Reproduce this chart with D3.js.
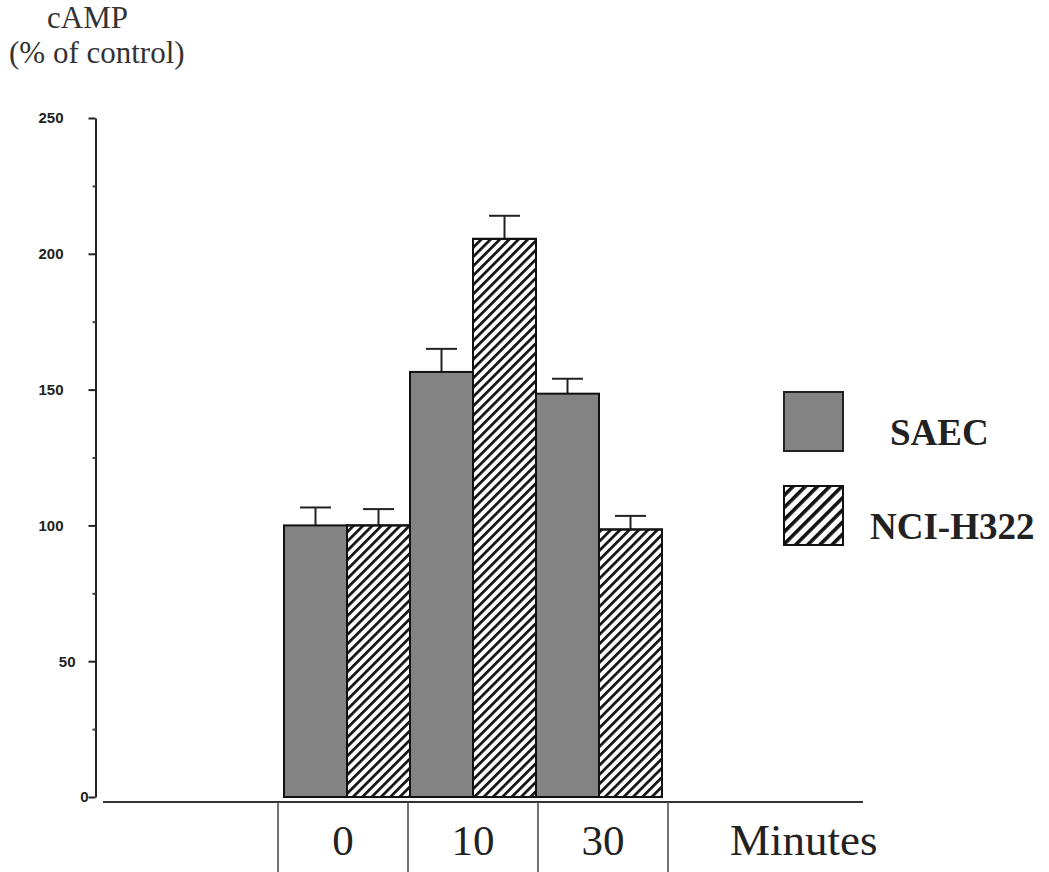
<!DOCTYPE html>
<html lang="en">
  <head>
    <meta charset="UTF-8" />
    <title>cAMP bar chart</title>
    <style>
      body { margin: 0; background: #fff; }
      svg { display: block; }
    </style>
  </head>

  <body>
    <div id="chart"></div>

    <script src="https://cdn.jsdelivr.net/npm/d3@7/dist/d3.min.js"></script>
    <script>

      // data
      var times = ["0", "10", "30"];
      var series = ["SAEC", "NCI-H322"];
      var saec = [100, 156.5, 148.5];
      var saecErr = [6.6, 8.5, 5.5];
      var nci = [100, 205.5, 98.5];
      var nciErr = [6, 8.5, 5];
      var yTicks = [0, 50, 100, 150, 200, 250];
      var yMinor = [25, 75, 125, 175, 225];

      var w = 1049, h = 872;
      var axisX = 95.5, axisY = 802;
      var serif = "'Liberation Serif', 'Times New Roman', serif";
      var sans = "'Liberation Sans', Arial, sans-serif";

      var svg = d3.select("#chart").append("svg")
                  .attr("width", w)
                  .attr("height", h);

      var defs = svg.append("defs");
      // hatch for the bars
      defs.append("pattern")
          .attr("id", "hatch")
          .attr("patternUnits", "userSpaceOnUse")
          .attr("width", 6.6)
          .attr("height", 6.6)
          .attr("patternTransform", "rotate(45)")
        .append("rect")
          .attr("width", 2.7)
          .attr("height", 6.6)
          .attr("fill", "#111");
      // wider hatch for the legend box
      defs.append("pattern")
          .attr("id", "hatchLegend")
          .attr("patternUnits", "userSpaceOnUse")
          .attr("width", 8.6)
          .attr("height", 8.6)
          .attr("patternTransform", "rotate(45)")
        .append("rect")
          .attr("width", 3.6)
          .attr("height", 8.6)
          .attr("fill", "#111");

      var yScale = d3.scaleLinear()
                     .domain([0, 250])
                     .range([797, 118]);

      var xGroup = d3.scaleBand()
                     .domain(times)
                     .range([284, 662]);
      var xSub = d3.scaleBand()
                   .domain(series)
                   .range([0, xGroup.bandwidth()]);
      var xCell = d3.scaleBand()
                    .domain(times)
                    .range([278, 668]);

      var data = [];
      times.forEach(function(t, i) {
        data.push({ time: t, s: "SAEC", v: saec[i], e: saecErr[i] });
        data.push({ time: t, s: "NCI-H322", v: nci[i], e: nciErr[i] });
      });

      // y axis
      var yAxis = d3.axisLeft(yScale)
                    .tickValues(yTicks)
                    .tickSize(7)
                    .tickSizeOuter(0)
                    .tickFormat(d3.format("d"));
      var gy = svg.append("g")
                  .attr("transform", "translate(" + axisX + ",0)")
                  .call(yAxis);
      gy.select(".domain").attr("stroke", "#222").attr("stroke-width", 2);
      gy.selectAll(".tick line").attr("stroke", "#222").attr("stroke-width", 2);
      gy.selectAll(".tick text")
        .attr("font-family", sans)
        .attr("font-size", 15)
        .attr("font-weight", 600)
        .attr("fill", "#222")
        .attr("x", function(d) {
          var n = String(d).length;
          return n === 3 ? -32 : (n === 2 ? -20 : -7);
        });

      var yMinorAxis = d3.axisLeft(yScale)
                         .tickValues(yMinor)
                         .tickSize(3)
                         .tickFormat("");
      var gm = svg.append("g")
                  .attr("transform", "translate(" + axisX + ",0)")
                  .call(yMinorAxis);
      gm.select(".domain").remove();
      gm.selectAll(".tick line").attr("stroke", "#444").attr("stroke-width", 2);

      // x axis line and the time table
      svg.append("line")
         .attr("x1", 103).attr("x2", 863)
         .attr("y1", axisY).attr("y2", axisY)
         .attr("stroke", "#333")
         .attr("stroke-width", 2);

      var cellEdges = times.map(function(t) { return xCell(t); })
                           .concat([xCell(times[times.length - 1]) + xCell.bandwidth()]);
      svg.selectAll(".cellLine")
         .data(cellEdges)
         .enter()
         .append("line")
         .attr("class", "cellLine")
         .attr("x1", function(d) { return d; })
         .attr("x2", function(d) { return d; })
         .attr("y1", axisY)
         .attr("y2", h)
         .attr("stroke", "#444")
         .attr("stroke-width", 1.5);

      svg.selectAll(".cellText")
         .data(times)
         .enter()
         .append("text")
         .attr("class", "cellText")
         .attr("x", function(d) { return xCell(d) + xCell.bandwidth() / 2; })
         .attr("y", 855)
         .attr("text-anchor", "middle")
         .attr("font-family", serif)
         .attr("font-size", 43)
         .attr("fill", "#222")
         .text(function(d) { return d; });

      svg.append("text")
         .attr("x", 730)
         .attr("y", 855)
         .attr("font-family", serif)
         .attr("font-size", 45)
         .attr("fill", "#222")
         .text("Minutes");

      // error bars (upward only)
      var errs = svg.append("g");
      errs.selectAll(".errLine")
          .data(data)
          .enter()
          .append("line")
          .attr("x1", function(d) { return xGroup(d.time) + xSub(d.s) + xSub.bandwidth() / 2; })
          .attr("x2", function(d) { return xGroup(d.time) + xSub(d.s) + xSub.bandwidth() / 2; })
          .attr("y1", function(d) { return yScale(d.v); })
          .attr("y2", function(d) { return yScale(d.v + d.e); })
          .attr("stroke", "#222")
          .attr("stroke-width", 2);
      errs.selectAll(".errCap")
          .data(data)
          .enter()
          .append("line")
          .attr("x1", function(d) { return xGroup(d.time) + xSub(d.s) + xSub.bandwidth() / 2 - 15.5; })
          .attr("x2", function(d) { return xGroup(d.time) + xSub(d.s) + xSub.bandwidth() / 2 + 15.5; })
          .attr("y1", function(d) { return yScale(d.v + d.e); })
          .attr("y2", function(d) { return yScale(d.v + d.e); })
          .attr("stroke", "#222")
          .attr("stroke-width", 2);

      // bars: white base, then gray or hatch on top
      svg.selectAll(".bar")
         .data(data)
         .enter()
         .append("rect")
         .attr("class", "bar")
         .attr("x", function(d) { return xGroup(d.time) + xSub(d.s); })
         .attr("y", function(d) { return yScale(d.v); })
         .attr("width", xSub.bandwidth())
         .attr("height", function(d) { return yScale(0) - yScale(d.v); })
         .attr("fill", function(d) { return d.s === "SAEC" ? "#838383" : "#fff"; })
         .attr("stroke", "#111")
         .attr("stroke-width", 2);
      svg.selectAll(".barHatch")
         .data(data.filter(function(d) { return d.s === "NCI-H322"; }))
         .enter()
         .append("rect")
         .attr("class", "barHatch")
         .attr("x", function(d) { return xGroup(d.time) + xSub(d.s); })
         .attr("y", function(d) { return yScale(d.v); })
         .attr("width", xSub.bandwidth())
         .attr("height", function(d) { return yScale(0) - yScale(d.v); })
         .attr("fill", "url(#hatch)")
         .attr("stroke", "#111")
         .attr("stroke-width", 2);

      // y label
      svg.append("text")
         .attr("x", 47).attr("y", 28)
         .attr("font-family", serif)
         .attr("font-size", 31)
         .attr("fill", "#333")
         .text("cAMP");
      svg.append("text")
         .attr("x", 9).attr("y", 63)
         .attr("font-family", serif)
         .attr("font-size", 31)
         .attr("fill", "#333")
         .text("(% of control)");

      // legend
      var legend = svg.append("g");
      var legendY = [392, 486];
      var legendTextX = [890, 870];
      series.forEach(function(s, i) {
        legend.append("rect")
              .attr("x", 784)
              .attr("y", legendY[i])
              .attr("width", 59)
              .attr("height", 59)
              .attr("fill", i === 0 ? "#838383" : "#fff")
              .attr("stroke", "#222")
              .attr("stroke-width", 2);
        if (i === 1) {
          legend.append("rect")
                .attr("x", 784)
                .attr("y", legendY[i])
                .attr("width", 59)
                .attr("height", 59)
                .attr("fill", "url(#hatchLegend)")
                .attr("stroke", "#111")
                .attr("stroke-width", 2);
        }
        legend.append("text")
              .attr("x", legendTextX[i])
              .attr("y", legendY[i] + 53)
              .attr("font-family", serif)
              .attr("font-weight", "bold")
              .attr("font-size", 37)
              .attr("fill", "#222")
              .text(s);
      });

    </script>
  </body>
</html>
